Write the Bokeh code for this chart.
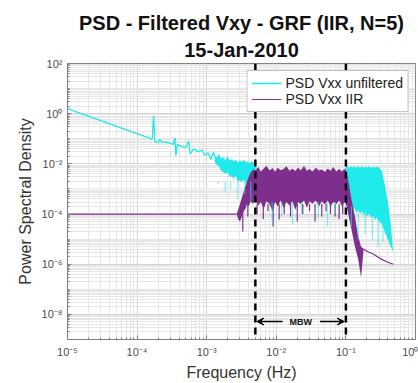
from bokeh.plotting import figure
from bokeh.models import (Range1d, FixedTicker, CustomJSTickFormatter, Span, Arrow, VeeHead,
                          Label, Legend, LegendItem, Title)
from bokeh.embed import file_html
from bokeh.resources import INLINE

# ---------------- data ----------------
# unfiltered PSD, low-frequency single line
cyan_line_f = [1.0e-5, 3.0e-5, 1.0e-4, 1.5e-4, 1.65e-4, 1.70e-4, 1.73e-4, 1.76e-4, 1.80e-4, 2.04e-4,
               2.1e-4, 2.3e-4, 2.6e-4, 3.0e-4, 3.3e-4, 3.5e-4, 3.6e-4, 3.8e-4, 4.3e-4, 5.0e-4,
               5.5e-4, 5.8e-4, 6.5e-4, 7.5e-4, 8.5e-4, 9.5e-4, 1.05e-3, 1.15e-3, 1.25e-3, 1.3e-3]
cyan_line_p = [1.6, 0.53, 0.16, 0.107, 0.097, 0.45, 0.83, 0.30, 0.075, 0.072,
               0.095, 0.070, 0.075, 0.065, 0.060, 0.110, 0.021, 0.060, 0.050, 0.045,
               0.079, 0.025, 0.040, 0.030, 0.035, 0.022, 0.028, 0.015, 0.030, 0.020]

# unfiltered PSD, dense noisy band (upper / lower envelopes)
cyan_band_f = [1.3e-3, 1.4e-3, 1.5e-3, 1.6e-3, 1.7e-3, 1.85e-3, 2.0e-3, 2.15e-3, 2.3e-3, 2.45e-3,
               2.6e-3, 2.8e-3, 3.0e-3, 3.2e-3, 3.4e-3, 3.65e-3, 3.9e-3, 4.15e-3, 4.4e-3, 4.7e-3,
               5.0e-3, 5.3e-3, 0.095, 0.1, 0.105, 0.11, 0.118, 0.125, 0.133, 0.14,
               0.15, 0.16, 0.17, 0.18, 0.19, 0.2, 0.215, 0.23, 0.245, 0.26,
               0.28, 0.3, 0.33, 0.36, 0.40, 0.44, 0.47, 0.48]
cyan_band_hi = [0.022, 0.018, 0.025, 0.016, 0.019, 0.014, 0.020, 0.013, 0.016, 0.012,
                0.015, 0.011, 0.014, 0.012, 0.015, 0.011, 0.013, 0.010, 0.013, 0.011,
                0.011, 4.5e-3, 4.5e-3, 7.5e-3, 8.8e-3, 6.8e-3, 8.2e-3, 7.0e-3, 8.5e-3, 6.8e-3,
                8.0e-3, 7.0e-3, 8.3e-3, 6.8e-3, 7.8e-3, 7.0e-3, 8.0e-3, 6.8e-3, 7.6e-3, 7.0e-3,
                7.8e-3, 7.0e-3, 5.0e-3, 1.5e-3, 3.2e-4, 4.0e-5, 5.0e-6, 3.0e-6]
cyan_band_lo = [0.012, 9.0e-3, 8.0e-3, 5.5e-3, 5.0e-3, 4.0e-3, 4.5e-3, 3.0e-3, 3.2e-3, 2.5e-3,
                3.5e-3, 2.0e-3, 2.2e-3, 1.8e-3, 2.5e-3, 1.6e-3, 1.8e-3, 1.4e-3, 2.0e-3, 1.5e-3,
                1.6e-3, 1.0e-3, 4.0e-4, 3.0e-4, 2.2e-4, 1.6e-4, 2.0e-4, 1.3e-4, 1.8e-4, 1.1e-4,
                1.5e-4, 1.0e-4, 1.3e-4, 9.0e-5, 1.2e-4, 8.0e-5, 1.0e-4, 7.0e-5, 9.0e-5, 6.0e-5,
                7.0e-5, 5.0e-5, 4.0e-5, 2.0e-5, 1.0e-5, 5.0e-6, 3.5e-6, 3.0e-6]

# unfiltered PSD, downward spikes (frequency, bottom value)
cyan_dip_f = [1.45e-3, 1.85e-3, 2.2e-3, 2.8e-3, 3.5e-3, 4.3e-3, 8.7e-3, 0.012, 0.017,
              0.023, 0.04, 0.054, 0.07, 0.12, 0.15, 0.19, 0.24, 0.29, 0.34]
cyan_dip_p = [1.6e-3, 8.0e-4, 1.0e-3, 4.0e-4, 6.3e-4, 3.2e-4, 5.0e-5, 8.0e-5, 4.0e-5,
              1.0e-4, 6.3e-5, 3.2e-5, 1.0e-4, 3.2e-5, 1.0e-5, 1.6e-5, 1.0e-5, 5.0e-6, 8.0e-6]

# IIR filtered PSD, flat low-frequency line and high-frequency tail
iir_line_f = [1.0e-5, 2.7e-3]
iir_line_p = [1.0e-4, 1.0e-4]
iir_tail_f = [0.18, 0.2, 0.25, 0.32, 0.4, 0.48]
iir_tail_p = [4.0e-6, 3.3e-6, 2.5e-6, 1.6e-6, 1.2e-6, 1.0e-6]

# IIR filtered PSD, dense pass band
iir_band_f = [2.7e-3, 2.85e-3, 3.0e-3, 3.2e-3, 3.4e-3, 3.6e-3, 3.8e-3, 4.0e-3, 4.3e-3, 4.6e-3,
              5.0e-3, 5.5e-3, 6.0e-3, 6.6e-3, 7.2e-3, 8.0e-3, 8.8e-3, 9.6e-3, 0.0105, 0.0115,
              0.0127, 0.014, 0.0155, 0.017, 0.0188, 0.0205, 0.0225, 0.025, 0.0275, 0.030,
              0.033, 0.037, 0.041, 0.045, 0.050, 0.055, 0.060, 0.066, 0.073, 0.080,
              0.088, 0.096, 0.1, 0.105, 0.11, 0.12, 0.135, 0.15, 0.165, 0.172, 0.18]
iir_band_hi = [1.0e-4, 1.6e-4, 2.5e-4, 4.5e-4, 8.0e-4, 1.3e-3, 2.0e-3, 3.0e-3, 4.5e-3, 6.0e-3,
               5.5e-3, 7.5e-3, 5.0e-3, 6.5e-3, 8.5e-3, 5.5e-3, 6.8e-3, 5.0e-3, 7.0e-3, 5.6e-3,
               6.3e-3, 8.0e-3, 5.3e-3, 6.5e-3, 5.2e-3, 7.2e-3, 5.5e-3, 8.5e-3, 5.3e-3, 6.2e-3,
               5.0e-3, 7.0e-3, 5.4e-3, 6.0e-3, 4.8e-3, 6.6e-3, 5.2e-3, 7.5e-3, 5.0e-3, 6.2e-3,
               5.0e-3, 6.5e-3, 5.0e-3, 3.2e-3, 1.6e-3, 4.0e-4, 8.0e-5, 1.3e-5, 5.0e-6, 4.5e-6, 4.0e-6]
iir_band_lo = [1.0e-4, 6.0e-5, 5.0e-5, 8.0e-5, 1.3e-4, 1.6e-4, 2.5e-4, 2.0e-4, 3.2e-4, 2.5e-4,
               3.5e-4, 2.2e-4, 3.0e-4, 1.6e-4, 3.2e-4, 2.5e-4, 1.3e-4, 3.0e-4, 2.0e-4, 3.5e-4,
               1.8e-4, 3.0e-4, 2.2e-4, 3.2e-4, 1.5e-4, 3.0e-4, 2.5e-4, 3.5e-4, 1.8e-4, 3.2e-4,
               2.6e-4, 3.5e-4, 2.0e-4, 3.2e-4, 2.4e-4, 3.5e-4, 2.0e-4, 3.0e-4, 2.5e-4, 3.5e-4,
               2.0e-4, 3.0e-4, 2.5e-4, 1.6e-4, 8.0e-5, 2.5e-5, 5.0e-6, 1.6e-6, 3.0e-7, 1.0e-6, 4.0e-6]

# IIR filtered PSD, downward spikes
iir_dip_f = [3.3e-3, 3.9e-3, 5.3e-3, 6.5e-3, 7.6e-3, 9.0e-3, 0.011, 0.013, 0.016, 0.02,
             0.024, 0.03, 0.036, 0.045, 0.052, 0.06, 0.07, 0.08, 0.09]
iir_dip_p = [2.0e-5, 8.0e-5, 1.0e-4, 6.3e-5, 1.3e-4, 3.2e-5, 6.0e-5, 1.0e-4, 8.0e-5, 5.0e-5,
             1.0e-4, 1.3e-4, 5.0e-5, 8.0e-5, 1.3e-4, 1.0e-4, 8.0e-5, 6.3e-5, 1.0e-4]

# measurement bandwidth edges (Hz)
mbw_edges = [0.005, 0.1]
mbw_label_y = 5.2e-9

x_major = [1e-5, 1e-4, 1e-3, 1e-2, 1e-1, 1e0]
y_major = [1e-8, 1e-6, 1e-4, 1e-2, 1e0, 1e2]

CYAN = "#1fe9ea"
PURPLE = "#7e2f8e"

# ---------------- figure ----------------
p = figure(width=418, height=383, x_axis_type="log", y_axis_type="log",
           x_range=Range1d(1e-5, 1e0), y_range=Range1d(1e-9, 1e2),
           output_backend="svg", toolbar_location=None,
           min_border_left=67, min_border_right=3, min_border_bottom=44, min_border_top=63)
p.title = None
p.add_layout(Title(text="15-Jan-2010", align="center", text_font="Liberation Sans",
                   text_font_size="20px", text_font_style="bold", text_color="#111111",
                   standoff=6), "above")
p.add_layout(Title(text="PSD - Filtered Vxy - GRF (IIR, N=5)", align="center",
                   text_font="Liberation Sans", text_font_size="20px", text_font_style="bold",
                   text_color="#111111", standoff=0), "above")

p.background_fill_color = "white"
p.border_fill_color = "white"
p.outline_line_color = "#808080"

minor_x = [m * 10.0 ** k for k in range(-5, 0) for m in range(2, 10)]
minor_y = [m * 10.0 ** k for k in range(-9, 2) for m in range(1, 10) if not (m == 1 and k % 2 == 0)]
p.xaxis.ticker = FixedTicker(ticks=x_major, minor_ticks=minor_x)
p.yaxis.ticker = FixedTicker(ticks=y_major, minor_ticks=minor_y)

fmt = CustomJSTickFormatter(code="""
const e = Math.round(Math.log10(tick));
const sup = {"-":"\u207b","0":"\u2070","1":"\u00b9","2":"\u00b2","3":"\u00b3","4":"\u2074",
             "5":"\u2075","6":"\u2076","7":"\u2077","8":"\u2078","9":"\u2079"};
return "10" + String(e).split("").map(c => sup[c]).join("");
""")
for ax in (p.xaxis, p.yaxis):
    ax.formatter = fmt
    ax.major_label_text_font = "Liberation Sans"
    ax.major_label_text_font_size = "11px"
    ax.major_label_text_color = "#4d4d4d"
    ax.axis_label_text_font = "Liberation Sans"
    ax.axis_label_text_font_size = "16px"
    ax.axis_label_text_font_style = "normal"
    ax.axis_label_text_color = "#333333"
    ax.axis_line_color = "#808080"
    ax.major_tick_line_color = "#808080"
    ax.minor_tick_line_color = "#808080"
    ax.major_tick_in = 4
    ax.major_tick_out = 0
    ax.minor_tick_in = 2
    ax.minor_tick_out = 0
p.xaxis.axis_label = "Frequency (Hz)"
p.yaxis.axis_label = "Power Spectral Density"
p.xaxis.major_label_standoff = 6
p.yaxis.major_label_standoff = 5
p.xaxis.axis_label_standoff = 3
p.yaxis.axis_label_standoff = 5

for g in (p.xgrid, p.ygrid):
    g.grid_line_color = "#d4d4d4"
    g.minor_grid_line_color = "#e6e6e6"
    g.grid_line_width = 1
    g.minor_grid_line_width = 1

# unfiltered
r_cyan = p.line(cyan_line_f, cyan_line_p, line_color=CYAN, line_width=1.3)
p.varea(x=cyan_band_f, y1=cyan_band_lo, y2=cyan_band_hi, fill_color=CYAN)
# IIR
r_iir = p.line(iir_line_f, iir_line_p, line_color=PURPLE, line_width=1.2)
p.line(iir_tail_f, iir_tail_p, line_color=PURPLE, line_width=1.2)
p.varea(x=iir_band_f, y1=iir_band_lo, y2=iir_band_hi, fill_color=PURPLE)
p.segment(x0=iir_dip_f, y0=iir_dip_p, x1=iir_dip_f, y1=[2.5e-4] * len(iir_dip_f),
          line_color=PURPLE, line_width=1.2)
# unfiltered dips (partly visible through the IIR band)
p.segment(x0=cyan_dip_f, y0=cyan_dip_p, x1=cyan_dip_f,
          y1=[2.0e-3 if f < 5e-3 else (3.0e-4 if f < 0.1 else 2.0e-4) for f in cyan_dip_f],
          line_color=CYAN, line_alpha=0.6, line_width=1.2)

# MBW markers
for edge in mbw_edges:
    p.add_layout(Span(location=edge, dimension="height", line_color="black",
                      line_width=2.5, line_dash="7 5"))
mid = (mbw_edges[0] * mbw_edges[1]) ** 0.5
p.add_layout(Arrow(end=VeeHead(size=7, fill_color="black", line_color="black"),
                   x_start=mid * 0.55, y_start=mbw_label_y, x_end=mbw_edges[0] * 1.05,
                   y_end=mbw_label_y, line_color="black", line_width=1.5))
p.add_layout(Arrow(end=VeeHead(size=7, fill_color="black", line_color="black"),
                   x_start=mid * 1.9, y_start=mbw_label_y, x_end=mbw_edges[1] * 0.95,
                   y_end=mbw_label_y, line_color="black", line_width=1.5))
p.add_layout(Label(x=mid, y=mbw_label_y, text="MBW", text_align="center",
                   text_baseline="middle", text_font="Liberation Sans", text_font_size="9px",
                   text_font_style="bold", text_color="#111111"))

legend = Legend(items=[LegendItem(label="PSD Vxx unfiltered", renderers=[r_cyan]),
                       LegendItem(label="PSD Vxx IIR", renderers=[r_iir])],
                location="top_right", margin=7, padding=4, spacing=0,
                glyph_width=30, glyph_height=16, label_standoff=4,
                label_text_font="Liberation Sans", label_text_font_size="14px",
                label_text_color="#222222", border_line_color="#888888",
                background_fill_alpha=1.0)
p.add_layout(legend)

open("out.html", "w").write(file_html(p, INLINE))
